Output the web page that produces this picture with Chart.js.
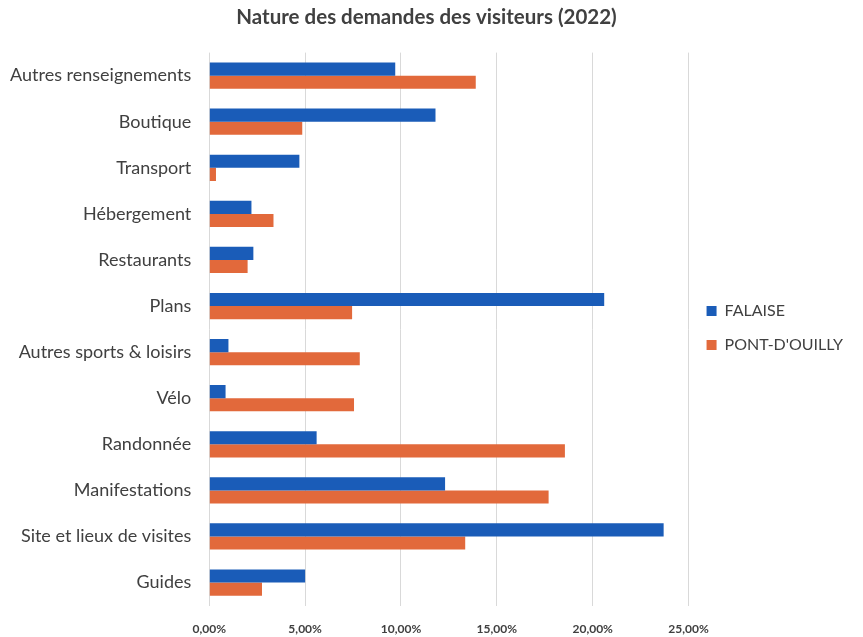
<!DOCTYPE html>
<html lang="fr">
<head>
    <meta charset="UTF-8">
    <title>Nature des demandes des visiteurs (2022)</title>
    <script src="https://cdn.jsdelivr.net/npm/chart.js"></script>
    <style>
        html, body { margin: 0; padding: 0; background: #fff; }
        .cadre { width: 863px; height: 637px; }
    </style>
</head>
<body>
    <div class="cadre">
        <canvas id="graphique"></canvas>
    </div>

<script>
    // données
    var categories = [
        "Autres renseignements",
        "Boutique",
        "Transport",
        "Hébergement",
        "Restaurants",
        "Plans",
        "Autres sports & loisirs",
        "Vélo",
        "Randonnée",
        "Manifestations",
        "Site et lieux de visites",
        "Guides"
    ];
    var falaise = [9.7, 11.8, 4.7, 2.2, 2.3, 20.6, 1.0, 0.85, 5.6, 12.3, 23.7, 5.0];
    var pontDouilly = [13.9, 4.85, 0.35, 3.35, 2.0, 7.45, 7.85, 7.55, 18.55, 17.7, 13.35, 2.75];
    var ticksX = [0, 5, 10, 15, 20, 25];

    var police = "Lato, 'Open Sans', sans-serif";

    const data = {
        labels: categories,
        datasets: [
            {
                label: 'FALAISE',
                data: falaise,
                backgroundColor: '#1a5cb8',
                categoryPercentage: 0.57,
                barPercentage: 1.0
            },
            {
                label: "PONT-D'OUILLY",
                data: pontDouilly,
                backgroundColor: '#e2693b',
                categoryPercentage: 0.57,
                barPercentage: 1.0
            }
        ]
    };

    const config = {
        type: 'bar',
        data: data,
        options: {
            indexAxis: 'y',
            responsive: true,
            maintainAspectRatio: false,
            animation: false,
            layout: { padding: { left: 0, right: 10, top: 4, bottom: -15 } },
            plugins: {
                title: {
                    display: true,
                    text: 'Nature des demandes des visiteurs (2022)',
                    color: '#404040',
                    font: { family: police, size: 20.5, weight: 'bold' },
                    padding: { top: 1, bottom: 23 }
                },
                legend: {
                    position: 'right',
                    labels: {
                        boxWidth: 10,
                        boxHeight: 10,
                        color: '#404040',
                        padding: 18,
                        font: { family: police, size: 16 }
                    }
                },
                tooltip: { enabled: false }
            },
            scales: {
                x: {
                    min: 0,
                    max: 25,
                    afterBuildTicks: function (axis) {
                        axis.ticks = ticksX.map(function (v) { return { value: v }; });
                    },
                    grid: { color: '#d9d9d9', drawTicks: false },
                    border: { display: false },
                    ticks: {
                        color: '#404040',
                        padding: 16,
                        font: { family: police, size: 12, weight: 'bold' },
                        callback: function (v) { return v.toFixed(2).replace('.', ',') + '%'; }
                    }
                },
                y: {
                    grid: { display: false },
                    border: { display: false },
                    ticks: {
                        color: '#404040',
                        padding: 10,
                        font: { family: police, size: 18 }
                    }
                }
            }
        }
    };

    const graphique = new Chart(document.getElementById('graphique'), config);
</script>
</body>
</html>
